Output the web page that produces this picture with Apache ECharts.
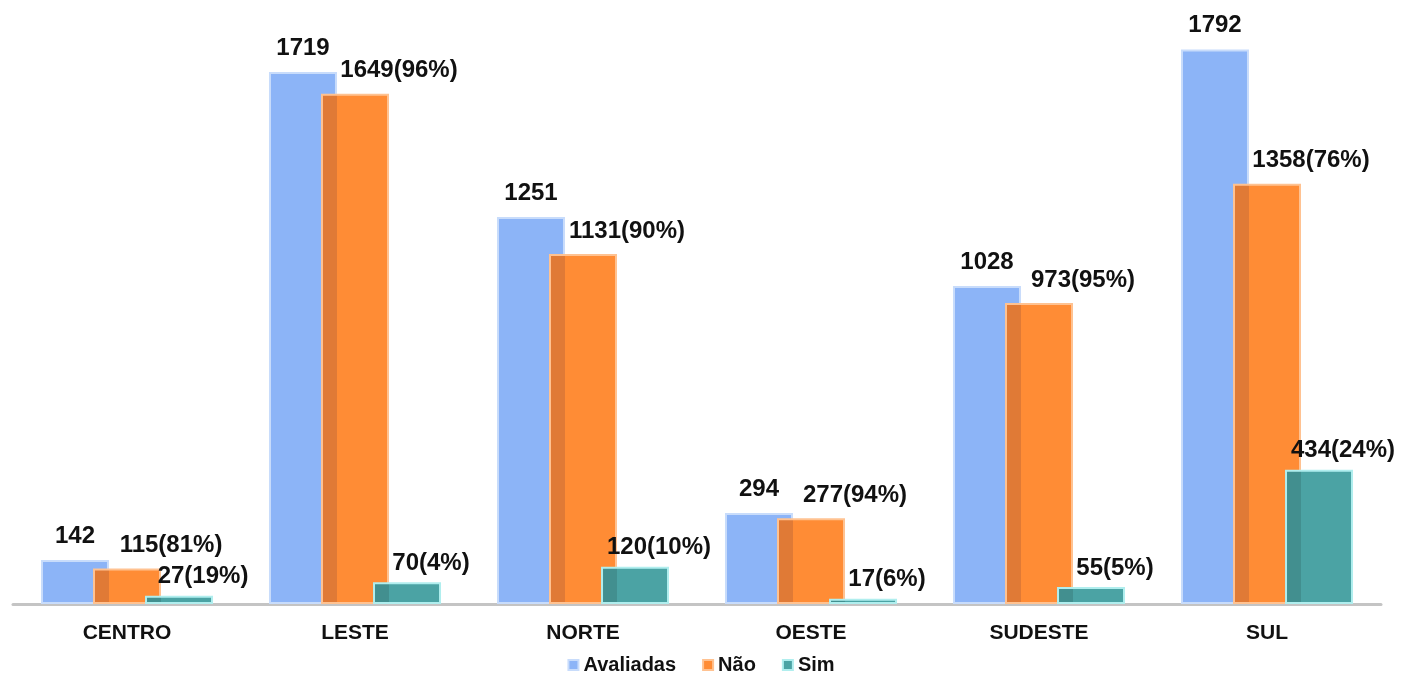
<!DOCTYPE html>
<html>
<head>
<meta charset="utf-8">
<script src="https://cdn.jsdelivr.net/npm/echarts@6/dist/echarts.min.js"></script>
<style>
html,body{margin:0;padding:0;background:#fff;}
#chart{width:1402px;height:673px;}
</style>
</head>
<body>
<div id="chart"></div>
<script>
var categories = ['CENTRO', 'LESTE', 'NORTE', 'OESTE', 'SUDESTE', 'SUL'];
var avaliadas = [142, 1719, 1251, 294, 1028, 1792];
var nao = [115, 1649, 1131, 277, 973, 1358];
var naoPct = [81, 96, 90, 94, 95, 76];
var sim = [27, 70, 120, 17, 55, 434];
var simPct = [19, 4, 10, 6, 5, 24];

var FONT = 'Arial, "Liberation Sans", sans-serif';
var BLUE = '#8CB4F7', ORANGE = '#FF8C35', TEAL = '#4BA3A4';

function split(dark, light) {
  return new echarts.graphic.LinearGradient(0, 0, 1, 0, [
    {offset: 0, color: dark}, {offset: 0.235, color: dark},
    {offset: 0.236, color: light}, {offset: 1, color: light}
  ]);
}

var chart = echarts.init(document.getElementById('chart'), null, {renderer: 'canvas'});
var labelBase = {show: true, position: 'top', color: '#111', fontFamily: FONT, fontWeight: 'bold', fontSize: 24};

chart.setOption({
  animation: false,
  grid: {left: 13, right: 21, top: 47, bottom: 69},
  legend: {
    top: 650, left: 'center', itemWidth: 10, itemHeight: 10, itemGap: 26, icon: 'rect',
    textStyle: {fontFamily: FONT, fontWeight: 'bold', fontSize: 20, color: '#111'},
    data: [
      {name: 'Avaliadas', itemStyle: {color: BLUE}},
      {name: 'Não', itemStyle: {color: ORANGE}},
      {name: 'Sim', itemStyle: {color: TEAL}}
    ]
  },
  xAxis: {
    type: 'category', data: categories,
    axisLine: {lineStyle: {color: '#c4c4c4', width: 3}},
    axisTick: {show: false},
    axisLabel: {fontFamily: FONT, fontWeight: 'bold', fontSize: 21, color: '#111', margin: 19}
  },
  yAxis: {type: 'value', min: 0, max: 1800, show: false, splitLine: {show: false}},
  series: [
    {
      name: 'Avaliadas', type: 'bar', data: avaliadas, barWidth: 68, barGap: '-23.5%',
      itemStyle: {color: BLUE, borderColor: '#c8dcfb', borderWidth: 2},
      label: Object.assign({}, labelBase, {distance: 12})
    },
    {
      name: 'Não', type: 'bar', data: nao, barWidth: 68, barGap: '-23.5%',
      itemStyle: {color: split('#E07A36', ORANGE), borderColor: '#ffc291', borderWidth: 2},
      label: Object.assign({}, labelBase, {distance: 11, offset: [44, 0],
        formatter: function (p) { return p.value + '(' + naoPct[p.dataIndex] + '%)'; }})
    },
    {
      name: 'Sim', type: 'bar', data: sim, barWidth: 68, barGap: '-23.5%',
      itemStyle: {color: split('#428F8F', TEAL), borderColor: '#b0eeee', borderWidth: 2},
      label: Object.assign({}, labelBase, {distance: 7, offset: [24, 0],
        formatter: function (p) { return p.value + '(' + simPct[p.dataIndex] + '%)'; }})
    }
  ]
});
</script>
</body>
</html>
